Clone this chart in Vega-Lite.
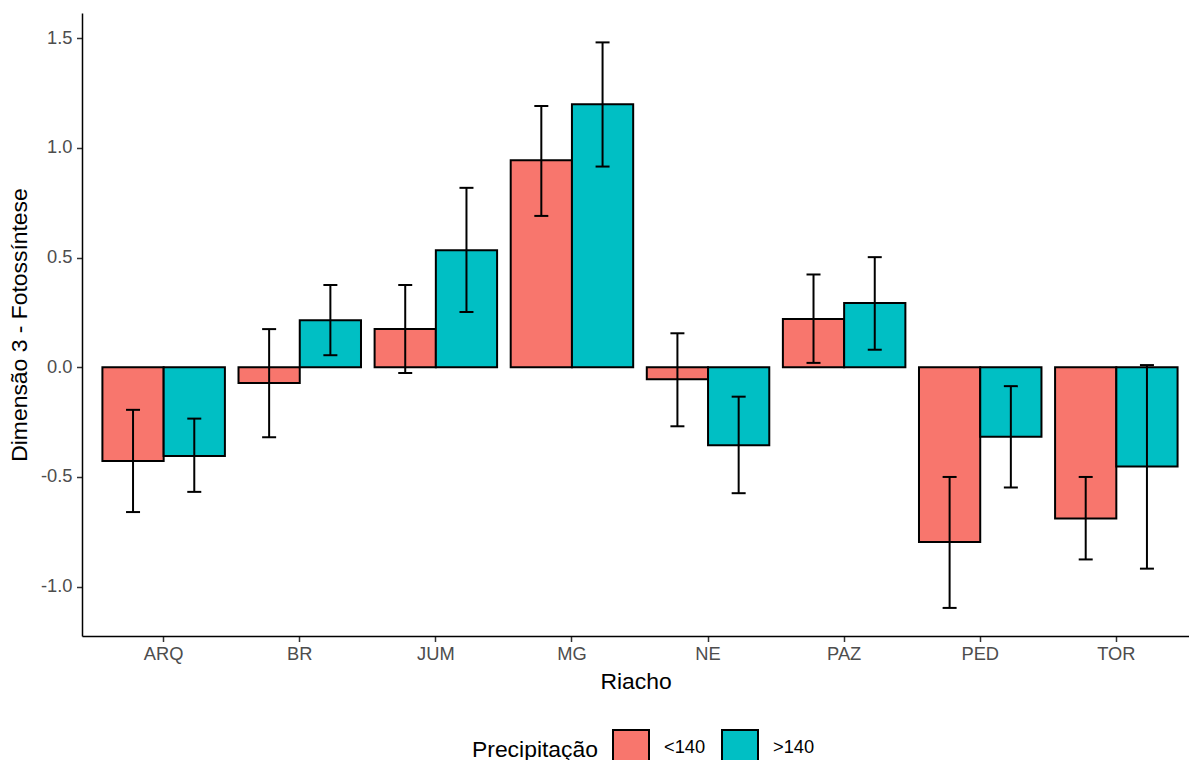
{
  "$schema": "https://vega.github.io/schema/vega-lite/v6.json",
  "autosize": {"type": "none"},
  "width": 1107,
  "height": 623,
  "padding": {"left": 82, "top": 13, "right": 0, "bottom": 124},
  "background": "white",
  "config": {"view": {"stroke": null}, "font": "Liberation Sans"},
  "data": {
    "values": [
      {"riacho": "ARQ", "prec": "<140", "mean": -0.427, "lo": -0.660, "hi": -0.194},
      {"riacho": "ARQ", "prec": ">140", "mean": -0.404, "lo": -0.568, "hi": -0.234},
      {"riacho": "BR", "prec": "<140", "mean": -0.072, "lo": -0.319, "hi": 0.174},
      {"riacho": "BR", "prec": ">140", "mean": 0.214, "lo": 0.055, "hi": 0.375},
      {"riacho": "JUM", "prec": "<140", "mean": 0.174, "lo": -0.026, "hi": 0.375},
      {"riacho": "JUM", "prec": ">140", "mean": 0.534, "lo": 0.252, "hi": 0.818},
      {"riacho": "MG", "prec": "<140", "mean": 0.944, "lo": 0.690, "hi": 1.191},
      {"riacho": "MG", "prec": ">140", "mean": 1.199, "lo": 0.915, "hi": 1.481},
      {"riacho": "NE", "prec": "<140", "mean": -0.055, "lo": -0.269, "hi": 0.155},
      {"riacho": "NE", "prec": ">140", "mean": -0.355, "lo": -0.574, "hi": -0.134},
      {"riacho": "PAZ", "prec": "<140", "mean": 0.220, "lo": 0.020, "hi": 0.423},
      {"riacho": "PAZ", "prec": ">140", "mean": 0.293, "lo": 0.080, "hi": 0.502},
      {"riacho": "PED", "prec": "<140", "mean": -0.797, "lo": -1.097, "hi": -0.500},
      {"riacho": "PED", "prec": ">140", "mean": -0.317, "lo": -0.548, "hi": -0.086},
      {"riacho": "TOR", "prec": "<140", "mean": -0.689, "lo": -0.876, "hi": -0.500},
      {"riacho": "TOR", "prec": ">140", "mean": -0.452, "lo": -0.918, "hi": 0.010}
    ]
  },
  "encoding": {
    "x": {
      "field": "riacho",
      "type": "nominal",
      "sort": ["ARQ", "BR", "JUM", "MG", "NE", "PAZ", "PED", "TOR"],
      "scale": {"paddingInner": 0.1, "paddingOuter": 0.117, "align": 0.641},
      "axis": {
        "title": "Riacho",
        "titleFontSize": 22.9,
        "titleFontWeight": "normal",
        "titleColor": "black",
        "titlePadding": 8,
        "labelAngle": 0,
        "labelFontSize": 18.3,
        "labelColor": "#4D4D4D",
        "labelPadding": 4,
        "tickSize": 5.5,
        "tickColor": "#333333",
        "tickWidth": 1.5,
        "domainColor": "black",
        "domainWidth": 1.5,
        "grid": false
      }
    },
    "xOffset": {"field": "prec", "type": "nominal", "sort": ["<140", ">140"]}
  },
  "layer": [
    {
      "mark": {"type": "bar", "stroke": "black", "strokeWidth": 2, "opacity": 1},
      "encoding": {
        "y": {
          "field": "mean",
          "type": "quantitative",
          "scale": {"domain": [-1.225, 1.615], "nice": false, "zero": false},
          "axis": {
            "title": "Dimensão 3 - Fotossíntese",
            "titleFontSize": 22.9,
            "titleFontWeight": "normal",
            "titleColor": "black",
            "titlePadding": 9,
            "values": [-1, -0.5, 0, 0.5, 1, 1.5],
            "labelExpr": "replace(format(datum.value, '.1f'), '\u2212', '-')",
            "labelFontSize": 18.3,
            "labelColor": "#4D4D4D",
            "labelPadding": 4.5,
            "tickSize": 5.5,
            "tickColor": "#333333",
            "tickWidth": 1.5,
            "domainColor": "black",
            "domainWidth": 1.5,
            "grid": false
          }
        },
        "y2": {"datum": 0},
        "color": {
          "field": "prec",
          "type": "nominal",
          "scale": {"domain": ["<140", ">140"], "range": ["#F8766D", "#00BFC4"]},
          "legend": {
            "title": "Precipitação",
            "orient": "none",
            "legendX": 390,
            "legendY": 716,
            "direction": "horizontal",
            "titleOrient": "left",
            "titleAnchor": "middle",
            "titleBaseline": "middle",
            "titleFontSize": 22.9,
            "titleFontWeight": "normal",
            "titleColor": "black",
            "titlePadding": 14,
            "labelFontSize": 18.3,
            "labelColor": "black",
            "labelOffset": 14,
            "columnPadding": 12,
            "symbolType": "square",
            "symbolSize": 1296,
            "symbolStrokeColor": "black",
            "symbolStrokeWidth": 2,
            "symbolOpacity": 1,
            "symbolOffset": 0
          }
        }
      }
    },
    {
      "mark": {"type": "rule", "color": "black", "strokeWidth": 2},
      "encoding": {
        "y": {"field": "lo", "type": "quantitative"},
        "y2": {"field": "hi"}
      }
    },
    {
      "mark": {"type": "tick", "orient": "horizontal", "color": "black", "size": 14, "thickness": 2, "opacity": 1},
      "encoding": {"y": {"field": "lo", "type": "quantitative"}}
    },
    {
      "mark": {"type": "tick", "orient": "horizontal", "color": "black", "size": 14, "thickness": 2, "opacity": 1},
      "encoding": {"y": {"field": "hi", "type": "quantitative"}}
    }
  ]
}
